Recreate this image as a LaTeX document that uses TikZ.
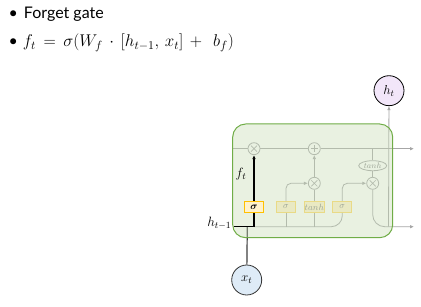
\RequirePackage{fix-cm}
\documentclass[tikz,border=0pt]{standalone}
\usepackage{fontspec}
\setmainfont{Lato}
\usepackage{bm}
\usepackage{tikz}
\usetikzlibrary{arrows.meta,positioning,shapes.geometric}
\definecolor{CellFill}{HTML}{C8DCB6}
\definecolor{CellEdge}{HTML}{70AD47}
\definecolor{LineGray}{HTML}{A6A6A6}
\definecolor{GateFill}{HTML}{FFF2CC}
\definecolor{GateEdge}{HTML}{FFC000}
\definecolor{GateEdgeSoft}{HTML}{FFD966}
\definecolor{OutFill}{HTML}{F2E6F9}
\definecolor{InFill}{HTML}{DEEBF7}

\tikzset{
  flow/.style={draw=LineGray, line width=0.8pt},
  tip/.style={-{Latex[length=4pt,width=3.6pt]}},
  hot/.style={draw=black, line width=1.2pt},
  opnode/.style={circle, draw=LineGray, line width=0.8pt, fill=white,
    minimum size=12pt, inner sep=0pt},
  timesnode/.style={opnode, path picture={
      \draw[LineGray, line width=0.7pt]
        ([shift={(-3pt,-3pt)}]path picture bounding box.center) -- ([shift={(3pt,3pt)}]path picture bounding box.center)
        ([shift={(-3pt,3pt)}]path picture bounding box.center) -- ([shift={(3pt,-3pt)}]path picture bounding box.center);}},
  plusnode/.style={opnode, path picture={
      \draw[LineGray, line width=0.7pt]
        ([shift={(-3.6pt,0pt)}]path picture bounding box.center) -- ([shift={(3.6pt,0pt)}]path picture bounding box.center)
        ([shift={(0pt,3.6pt)}]path picture bounding box.center) -- ([shift={(0pt,-3.6pt)}]path picture bounding box.center);}},
  squash/.style={ellipse, draw=LineGray, line width=0.8pt, fill=white,
    minimum width=28pt, minimum height=10pt, inner sep=0pt, text=gray,
    font=\fontsize{8}{9}\selectfont},
  gatebox/.style={rectangle, draw=GateEdgeSoft, line width=0.8pt, fill=GateFill,
    minimum width=19pt, minimum height=11pt, inner sep=0pt, text=gray,
    font=\fontsize{9}{10}\selectfont},
  hotgate/.style={gatebox, draw=GateEdge, line width=1.2pt, text=black,
    font=\fontsize{10}{11}\selectfont},
  state/.style={circle, draw=black, line width=0.8pt, minimum size=30pt,
    inner sep=0pt, font=\fontsize{13}{14}\selectfont},
  bullet/.style={anchor=base west, inner sep=0pt, font=\fontsize{16}{18}\selectfont}
}

\begin{document}
\begin{tikzpicture}[x=1pt, y=-1pt]
  \useasboundingbox (0,0) rectangle (421,307);
  \fill[white] (0,0) rectangle (421,307);

  % slide text
  \node[bullet] (title) at (8.5,18.3) {\textbullet\hspace{6pt}Forget gate};
  \node[bullet] (formula) at (8.5,46.7)
    {\textbullet\hspace{5pt}\fontsize{17}{19}\selectfont\thickmuskip=8mu\medmuskip=7mu
     $f_t = \sigma(W_f \cdot [h_{t-1},\, x_t] +\ b_f)$};

  % cell internals
  \coordinate (cin) at (233,148.7);
  \coordinate (cout) at (414,148.7);
  \coordinate (hin) at (233.5,226.7);
  \coordinate (hsplit) at (254,226.7);
  \coordinate (hout) at (414,226.7);
  \coordinate (hup) at (388.5,226.7);
  \coordinate (xjoin) at (247.3,226.7);

  \node[timesnode] (mulf) at (254,148.7) {};
  \node[plusnode] (addc) at (314.3,148.7) {};
  \node[timesnode] (muli) at (314.3,183.3) {};
  \node[timesnode] (mulo) at (372.7,183.3) {};
  \node[squash] (tanhc) at (372.7,165.7) {$tanh$};

  \node[gatebox] (gi) at (286,207) {$\sigma$};
  \node[gatebox, minimum width=20pt] (gc) at (314.3,207) {$tanh$};
  \node[gatebox] (go) at (342.3,207) {$\sigma$};

  \draw[flow, tip] (cin) -- (mulf) -- (addc) -- (cout);
  \draw[flow] (tanhc |- cin) -- (tanhc);
  \draw[flow] (tanhc) -- (mulo);
  \draw[flow, tip] (muli) -- (addc);
  \draw[flow, tip, rounded corners=5pt] (gi.north) |- (muli.west);
  \draw[flow] (gc.north) -- (muli.south);
  \draw[flow, tip, rounded corners=5pt] (go.north) |- (mulo.west);
  \draw[flow, rounded corners=11pt] (hsplit) -| (go.south);
  \draw[flow] (gi |- hsplit) -- (gi.south);
  \draw[flow] (gc |- hsplit) -- (gc.south);
  \draw[flow, tip, rounded corners=12pt] (mulo.south) |- (hout);

  \node[state, fill=OutFill] (ht) at (389,90.7) {$h_t$};
  \node[state, fill=InFill, draw=black!80] (xt) at (246.7,280) {$x_t$};
  \draw[flow, tip] (hup) -- (ht);
  \draw[draw=black!75, line width=1.2pt] (xt) -- (xjoin);

  % cell body fades everything under it
  \draw[draw=CellEdge, line width=1pt, fill=CellFill, fill opacity=0.4,
    rounded corners=13pt] (232.7,124) rectangle (392.7,237.7);

  % forget gate path
  \node[hotgate] (gf) at (254,207) {$\bm{\sigma}$};
  \draw[hot] (hin) -| (gf.south);
  \draw[hot, tip] (gf) -- (mulf);
  \node[font=\fontsize{13.5}{15}\selectfont] (flabel) at (241,174) {$f_t$};
  \node[anchor=base east, inner sep=0pt, font=\fontsize{13.5}{15}\selectfont]
    (hlabel) at ([xshift=-2pt]hin) {$h_{t-1}$};
\end{tikzpicture}
\end{document}
